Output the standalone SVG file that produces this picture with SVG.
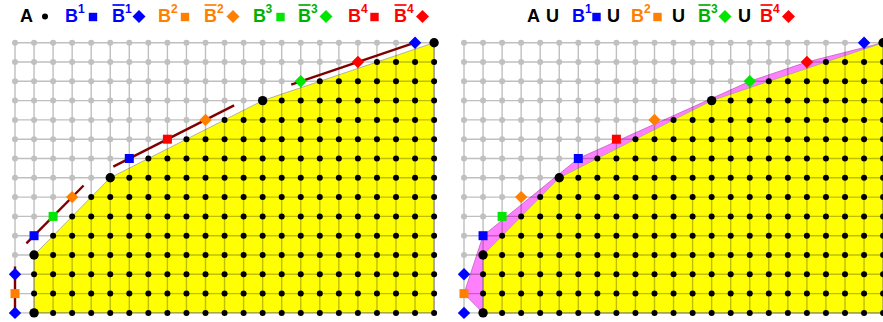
<svg xmlns="http://www.w3.org/2000/svg" xmlns:xlink="http://www.w3.org/1999/xlink" width="883" height="322" viewBox="0 0 883 322">
<style>
.t{font-family:"Liberation Sans",Arial,sans-serif;font-weight:bold;font-size:18px}
.s{font-family:"Liberation Sans",Arial,sans-serif;font-weight:bold;font-size:12px}
.grid{fill:none;stroke:#000;stroke-opacity:0.25;stroke-width:1.4}
.conn{stroke:#800000;stroke-width:2.4;fill:none}
.bar{stroke-width:1.7}
</style>
<defs>
<circle id="g" r="3" fill="#c0c0c0"/>
<circle id="b" r="3" fill="#000"/>
<circle id="B" r="4.7" fill="#000"/>
<rect id="sq" x="-4.5" y="-4.5" width="9" height="9"/>
<path id="dm" d="M0 -6.2L6.2 0L0 6.2L-6.2 0Z"/>
<rect id="hsq" x="-4.2" y="-4.2" width="8.4" height="8.4"/>
<path id="hdm" d="M0 -6.5L6.5 0L0 6.5L-6.5 0Z"/>
<use id="h0" href="#g" x="15"/>
<g id="h1"><use href="#h0"/><use href="#g" x="34.05"/></g>
<g id="h2"><use href="#h1"/><use href="#g" x="53.1"/></g>
<g id="h3"><use href="#h2"/><use href="#g" x="72.15"/></g>
<g id="h4"><use href="#h3"/><use href="#g" x="91.2"/></g>
<g id="h5"><use href="#h4"/><use href="#g" x="110.25"/></g>
<g id="h6"><use href="#h5"/><use href="#g" x="129.3"/></g>
<g id="h7"><use href="#h6"/><use href="#g" x="148.35"/></g>
<g id="h8"><use href="#h7"/><use href="#g" x="167.4"/></g>
<g id="h9"><use href="#h8"/><use href="#g" x="186.45"/></g>
<g id="h10"><use href="#h9"/><use href="#g" x="205.5"/></g>
<g id="h11"><use href="#h10"/><use href="#g" x="224.55"/></g>
<g id="h12"><use href="#h11"/><use href="#g" x="243.6"/></g>
<g id="h13"><use href="#h12"/><use href="#g" x="262.65"/></g>
<g id="h14"><use href="#h13"/><use href="#g" x="281.7"/></g>
<g id="h15"><use href="#h14"/><use href="#g" x="300.75"/></g>
<g id="h16"><use href="#h15"/><use href="#g" x="319.8"/></g>
<g id="h17"><use href="#h16"/><use href="#g" x="338.85"/></g>
<g id="h18"><use href="#h17"/><use href="#g" x="357.9"/></g>
<g id="h19"><use href="#h18"/><use href="#g" x="376.95"/></g>
<g id="h20"><use href="#h19"/><use href="#g" x="396"/></g>
<g id="h21"><use href="#h20"/><use href="#g" x="415.05"/></g>
<use id="t22" href="#b" x="434.1"/>
<g id="t21"><use href="#t22"/><use href="#b" x="415.05"/></g>
<g id="t20"><use href="#t21"/><use href="#b" x="396"/></g>
<g id="t19"><use href="#t20"/><use href="#b" x="376.95"/></g>
<g id="t18"><use href="#t19"/><use href="#b" x="357.9"/></g>
<g id="t17"><use href="#t18"/><use href="#b" x="338.85"/></g>
<g id="t16"><use href="#t17"/><use href="#b" x="319.8"/></g>
<g id="t15"><use href="#t16"/><use href="#b" x="300.75"/></g>
<g id="t14"><use href="#t15"/><use href="#b" x="281.7"/></g>
<g id="t13"><use href="#t14"/><use href="#b" x="262.65"/></g>
<g id="t12"><use href="#t13"/><use href="#b" x="243.6"/></g>
<g id="t11"><use href="#t12"/><use href="#b" x="224.55"/></g>
<g id="t10"><use href="#t11"/><use href="#b" x="205.5"/></g>
<g id="t9"><use href="#t10"/><use href="#b" x="186.45"/></g>
<g id="t8"><use href="#t9"/><use href="#b" x="167.4"/></g>
<g id="t7"><use href="#t8"/><use href="#b" x="148.35"/></g>
<g id="t6"><use href="#t7"/><use href="#b" x="129.3"/></g>
<g id="t5"><use href="#t6"/><use href="#b" x="110.25"/></g>
<g id="t4"><use href="#t5"/><use href="#b" x="91.2"/></g>
<g id="t3"><use href="#t4"/><use href="#b" x="72.15"/></g>
<g id="t2"><use href="#t3"/><use href="#b" x="53.1"/></g>
<g id="t1"><use href="#t2"/><use href="#b" x="34.05"/></g>

<g id="base">
<polygon points="34.05,312.9 34.05,255 110.25,177.8 262.65,100.6 434.1,42.7 434.1,312.9" fill="#ffff00" stroke="#a0a0a0" stroke-width="0.8"/>
<path class="grid" d="M15 42.7V312.9M34.05 42.7V312.9M53.1 42.7V312.9M72.15 42.7V312.9M91.2 42.7V312.9M110.25 42.7V312.9M129.3 42.7V312.9M148.35 42.7V312.9M167.4 42.7V312.9M186.45 42.7V312.9M205.5 42.7V312.9M224.55 42.7V312.9M243.6 42.7V312.9M262.65 42.7V312.9M281.7 42.7V312.9M300.75 42.7V312.9M319.8 42.7V312.9M338.85 42.7V312.9M357.9 42.7V312.9M376.95 42.7V312.9M396 42.7V312.9M415.05 42.7V312.9M434.1 42.7V312.9M15 42.7H434.1M15 62H434.1M15 81.3H434.1M15 100.6H434.1M15 119.9H434.1M15 139.2H434.1M15 158.5H434.1M15 177.8H434.1M15 197.1H434.1M15 216.4H434.1M15 235.7H434.1M15 255H434.1M15 274.3H434.1M15 293.6H434.1M15 312.9H434.1"/>
<use href="#h21" y="42.7"/><use href="#t22" y="42.7"/>
<use href="#h18" y="62"/><use href="#t19" y="62"/>
<use href="#h15" y="81.3"/><use href="#t16" y="81.3"/>
<use href="#h12" y="100.6"/><use href="#t13" y="100.6"/>
<use href="#h10" y="119.9"/><use href="#t11" y="119.9"/>
<use href="#h8" y="139.2"/><use href="#t9" y="139.2"/>
<use href="#h6" y="158.5"/><use href="#t7" y="158.5"/>
<use href="#h4" y="177.8"/><use href="#t5" y="177.8"/>
<use href="#h3" y="197.1"/><use href="#t4" y="197.1"/>
<use href="#h2" y="216.4"/><use href="#t3" y="216.4"/>
<use href="#h1" y="235.7"/><use href="#t2" y="235.7"/>
<use href="#h0" y="255"/><use href="#t1" y="255"/>
<use href="#h0" y="274.3"/><use href="#t1" y="274.3"/>
<use href="#h0" y="293.6"/><use href="#t1" y="293.6"/>
<use href="#h0" y="312.9"/><use href="#t1" y="312.9"/>
<use href="#B" x="34.05" y="312.9"/>
<use href="#B" x="34.05" y="255"/>
<use href="#B" x="110.25" y="177.8"/>
<use href="#B" x="262.65" y="100.6"/>
<use href="#B" x="434.1" y="42.7"/>
</g>

<g id="marks">
<use href="#sq" x="34.05" y="235.7" fill="#0000ff"/>
<use href="#sq" x="129.3" y="158.5" fill="#0000ff"/>
<use href="#dm" x="15" y="274.3" fill="#0000ff"/>
<use href="#dm" x="15" y="312.9" fill="#0000ff"/>
<use href="#dm" x="415.05" y="42.7" fill="#0000ff"/>
<use href="#sq" x="15" y="293.6" fill="#ff8000"/>
<use href="#dm" x="72.15" y="197.1" fill="#ff8000"/>
<use href="#dm" x="205.5" y="119.9" fill="#ff8000"/>
<use href="#sq" x="53.1" y="216.4" fill="#00e600"/>
<use href="#dm" x="300.75" y="81.3" fill="#00e600"/>
<use href="#sq" x="167.4" y="139.2" fill="#ff0000"/>
<use href="#dm" x="357.9" y="62" fill="#ff0000"/>
</g>
</defs>

<g id="header-left">
<text class="t" x="20" y="22" fill="#000">A</text>
<circle cx="45" cy="16.5" r="3" fill="#000"/>
<text class="t" x="65" y="22" fill="#0000ff">B</text><text class="s" x="78" y="12.5" fill="#0000ff">1</text>
<use href="#hsq" x="93" y="17" fill="#0000ff"/>
<line class="bar" x1="112.5" y1="5" x2="124.5" y2="5" stroke="#0000ff"/>
<text class="t" x="112" y="22" fill="#0000ff">B</text><text class="s" x="125" y="12.5" fill="#0000ff">1</text>
<use href="#hdm" x="139" y="16.5" fill="#0000ff"/>
<text class="t" x="158" y="22" fill="#ff8000">B</text><text class="s" x="171" y="12.5" fill="#ff8000">2</text>
<use href="#hsq" x="185" y="17" fill="#ff8000"/>
<line class="bar" x1="204.5" y1="5" x2="216.5" y2="5" stroke="#ff8000"/>
<text class="t" x="204" y="22" fill="#ff8000">B</text><text class="s" x="217" y="12.5" fill="#ff8000">2</text>
<use href="#hdm" x="233" y="16.5" fill="#ff8000"/>
<text class="t" x="253" y="22" fill="#00b000">B</text><text class="s" x="265.5" y="12.5" fill="#00b000">3</text>
<use href="#hsq" x="280.5" y="17" fill="#00e600"/>
<line class="bar" x1="298.5" y1="5" x2="310.5" y2="5" stroke="#00b000"/>
<text class="t" x="298" y="22" fill="#00b000">B</text><text class="s" x="311" y="12.5" fill="#00b000">3</text>
<use href="#hdm" x="326" y="16.5" fill="#00e600"/>
<text class="t" x="348" y="22" fill="#ff0000">B</text><text class="s" x="361" y="12.5" fill="#ff0000">4</text>
<use href="#hsq" x="374.5" y="17" fill="#ff0000"/>
<line class="bar" x1="394.5" y1="5" x2="406.5" y2="5" stroke="#ff0000"/>
<text class="t" x="394" y="22" fill="#ff0000">B</text><text class="s" x="407" y="12.5" fill="#ff0000">4</text>
<use href="#hdm" x="422.5" y="16.5" fill="#ff0000"/>
</g>

<g id="header-right">
<text class="t" x="527" y="22" fill="#000">A</text>
<text class="t" x="546" y="22" fill="#000">U</text>
<text class="t" x="572" y="22" fill="#0000ff">B</text><text class="s" x="585" y="12.5" fill="#0000ff">1</text>
<use href="#hsq" x="596.5" y="17" fill="#0000ff"/>
<text class="t" x="607" y="22" fill="#000">U</text>
<text class="t" x="631" y="22" fill="#ff8000">B</text><text class="s" x="644" y="12.5" fill="#ff8000">2</text>
<use href="#hsq" x="657.5" y="17" fill="#ff8000"/>
<text class="t" x="672" y="22" fill="#000">U</text>
<line class="bar" x1="698.5" y1="5" x2="710.5" y2="5" stroke="#00b000"/>
<text class="t" x="698" y="22" fill="#00b000">B</text><text class="s" x="711" y="12.5" fill="#00b000">3</text>
<use href="#hdm" x="725" y="16.5" fill="#00e600"/>
<text class="t" x="738" y="22" fill="#000">U</text>
<line class="bar" x1="760.5" y1="5" x2="772.5" y2="5" stroke="#ff0000"/>
<text class="t" x="760" y="22" fill="#ff0000">B</text><text class="s" x="773" y="12.5" fill="#ff0000">4</text>
<use href="#hdm" x="788.5" y="16.5" fill="#ff0000"/>
</g>

<g id="panel-left">
<use href="#base"/>
<g id="connectors">
<line class="conn" x1="15" y1="266.5" x2="15" y2="312.9"/>
<line class="conn" x1="26.4" y1="243.4" x2="83.6" y2="185.5"/>
<line class="conn" x1="113.3" y1="166.6" x2="234.1" y2="105.4"/>
<line class="conn" x1="291.2" y1="84.6" x2="415.05" y2="42.7"/>
</g>
<use href="#marks"/>
</g>

<g id="panel-right">
<polygon id="hull" points="483.05,312.9 464,293.6 483.05,235.7 578.3,158.5 749.75,81.3 806.9,62 883.1,42.7 883.1,312.9" fill="#ff80ff" stroke="#c060c0" stroke-width="0.8"/>
<use href="#base" x="449"/>
<use href="#marks" x="449"/>
</g>
</svg>
